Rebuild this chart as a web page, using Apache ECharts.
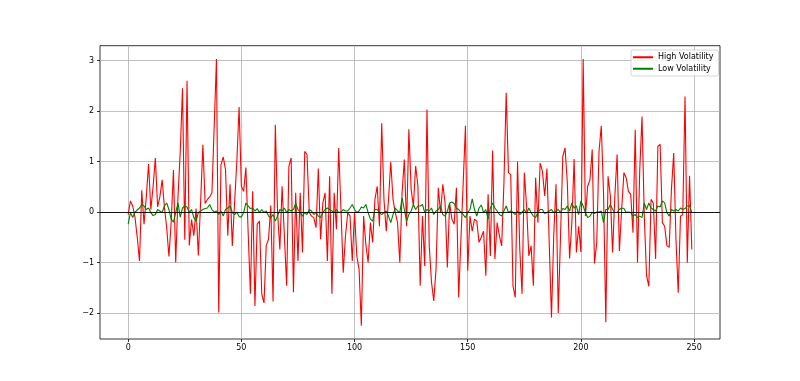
<!DOCTYPE html>
<html><head><meta charset="utf-8">
<script src="https://cdn.jsdelivr.net/npm/echarts@6/dist/echarts.min.js"></script>
<style>html,body{margin:0;padding:0;background:#fff}#c{width:800px;height:381px}</style>
</head><body><div id="c"></div>
<script>
const seriesNames = ['High Volatility', 'Low Volatility'];
const xTicks = [0, 50, 100, 150, 200, 250];
const yTicks = [-2, -1, 0, 1, 2, 3];
const highVol = [
-0.05,0.22,0.12,-0.1,-0.5,-0.97,0.43,-0.24,0.3,0.95,
0.05,0.5,1.07,0.1,0.3,0.64,0.1,-0.3,-0.88,-0.2,
0.83,-1.0,0.3,1.2,2.45,-0.55,2.6,-0.66,-0.15,-0.47,
0.07,-0.86,0.2,1.33,0.17,0.25,0.3,0.38,1.7,3.03,
-1.99,0.94,1.09,0.84,-0.47,0.55,-0.67,0.18,1.0,2.08,
0.51,0.41,0.88,-0.4,-1.62,0.41,-1.86,-0.24,-0.18,-1.62,
-1.8,-0.66,-0.54,0.13,-1.77,1.73,-0.01,-0.74,0.51,-0.47,
-1.46,0.91,1.07,-1.59,0.38,-0.97,0.38,-0.8,1.2,1.14,
-0.01,-0.08,-0.11,-0.31,0.86,-0.54,0.18,0.38,-0.97,0.71,
-1.62,0.38,-0.34,1.27,0.05,-1.2,-0.47,-0.01,-0.08,-0.97,
0.0,-0.87,-1.13,-2.25,-0.08,-0.64,-1.0,-0.21,-0.6,0.25,
0.51,-0.28,1.76,0.25,-0.38,0.25,0.99,0.25,-0.01,-0.21,
-1.0,0.38,1.04,-0.28,1.64,0.45,0.12,0.91,0.51,-1.46,
-0.08,-1.07,2.03,-0.67,-1.39,-1.76,-1.13,0.48,-0.01,0.55,
0.18,-1.1,0.18,-0.14,-0.24,0.48,-1.69,-0.54,0.58,1.71,
-1.16,-0.08,-0.38,-0.14,-0.18,-0.6,-0.5,-0.38,-1.26,0.35,
-0.87,1.22,-0.93,-0.21,-0.47,-0.67,0.58,2.36,0.78,0.74,
-1.46,-1.69,1.0,-0.74,-1.62,0.78,0.12,-0.87,-0.67,-1.46,
0.68,-0.21,0.97,0.81,0.32,0.86,-0.6,-2.09,-0.47,0.55,
-2.0,-0.47,1.1,1.27,0.58,-0.92,-0.21,1.05,-0.8,-0.28,
-0.79,3.03,-0.08,0.51,0.64,1.24,-1.02,-0.6,1.2,1.71,
0.38,-2.18,0.71,0.32,-0.8,0.32,1.14,-0.77,0.05,0.78,
0.68,0.41,0.35,-0.41,1.63,-1.0,0.84,1.89,-0.08,-1.26,
-1.47,0.25,0.18,-0.93,1.3,1.34,-0.21,-0.28,-0.67,-0.7,
0.45,1.17,-0.54,-1.6,-0.08,-0.05,2.29,-1.0,0.72,-0.74
];
const lowVol = [
-0.24,-0.01,-0.11,0,0.04,0.08,0.15,0.12,0.05,0.08,
-0.01,-0.07,-0.05,0.05,0.02,-0.01,0.12,0.18,0.05,-0.14,
-0.2,-0.01,0.18,-0.1,0.08,0.12,0.1,-0.01,0.05,-0.11,
-0.18,-0.01,0.02,0.05,0.07,0.08,0.15,0.05,0,0.02,
-0.05,0.02,-0.08,0.05,0.08,0.12,-0.01,-0.05,0,-0.09,
-0.1,-0.01,0.18,0.12,0.07,0.08,0.02,0.07,-0.01,0.05,
-0.01,0.02,-0.08,-0.11,-0.05,-0.18,-0.08,0.05,0.02,0.08,
-0.01,0.05,0.02,0.05,0.17,0.05,-0.01,-0.08,-0.01,-0.05,
0.05,0.02,-0.05,-0.01,-0.08,-0.11,-0.01,0.05,0.08,0.05,
0.02,-0.01,0.05,-0.01,0,0.05,0.02,0.02,0.08,0.15,
0.05,-0.01,0.02,0.1,0.08,0.15,-0.01,-0.14,-0.18,0.05,
0.05,-0.01,-0.05,-0.01,0.02,-0.08,-0.21,-0.05,0.08,0.02,
-0.01,0.28,0.05,-0.18,-0.05,0.02,0.15,0.05,0.12,0.12,
0.15,-0.01,0.05,0.02,0.08,-0.05,0.02,0.05,0.12,-0.05,
-0.08,0.02,0.18,0.2,0.17,0.08,0.05,0,-0.05,-0.11,
-0.01,0.05,0.26,0.05,-0.08,0.08,0.14,-0.01,0.05,-0.14,
0.08,0.18,0.08,0.02,-0.05,-0.08,0.02,0.12,-0.01,0.02,
-0.01,-0.05,0.02,-0.05,0,0.05,-0.03,0.08,-0.01,-0.08,
-0.11,-0.01,0.05,0.05,-0.03,-0.01,0.02,0.05,-0.01,0.02,
0.05,-0.01,0.07,0.05,0.12,0.02,0.18,0.08,0.12,-0.05,
0.22,0.12,-0.01,-0.11,-0.08,-0.01,-0.03,0,0,0.02,
-0.21,0.05,0.05,0.15,0.05,-0.01,-0.01,0.05,0.08,0.07,
-0.01,0,-0.01,-0.08,-0.05,-0.11,-0.08,-0.11,0.18,0.05,
0.18,0.08,0.05,0.02,0.12,0.1,0.22,0.18,-0.01,-0.08,
0.05,0.02,0.05,0.02,0.08,0.05,0.07,0.12,0.13,-0.01
];

const n = highVol.length;
const xMin = -0.05 * (n - 1), xMax = (n - 1) * 1.05;
const all = highVol.concat(lowVol);
const dMin = Math.min(...all), dMax = Math.max(...all);
const yMin = dMin - 0.05 * (dMax - dMin), yMax = dMax + 0.05 * (dMax - dMin);
const fmt = v => String(v).replace('-', '\u2212');
const font = 'DejaVu Sans';

const chart = echarts.init(document.getElementById('c'), null, {renderer: 'canvas'});
chart.setOption({
  animation: false,
  backgroundColor: '#ffffff',
  grid: {left: 100, right: 80, top: 45.7, bottom: 42, show: true, borderColor: '#000', borderWidth: 0.8, backgroundColor: 'transparent'},
  legend: {
    orient: 'vertical', left: 631, top: 50,
    padding: [2.5, 5, 2.5, 2], itemGap: 2,
    itemWidth: 20, itemHeight: 2, icon: 'rect',
    backgroundColor: 'rgba(255,255,255,0.8)', borderColor: '#cccccc', borderWidth: 0.8, borderRadius: 2,
    textStyle: {fontFamily: font, fontSize: 8, color: '#000', lineHeight: 9.5},
    data: seriesNames
  },
  xAxis: {
    type: 'value', min: xMin, max: xMax, position: 'bottom',
    axisLine: {show: false, onZero: false},
    axisTick: {show: true, inside: false, length: 3, lineStyle: {color: '#000', width: 0.8}, customValues: xTicks},
    axisLabel: {fontFamily: font, fontSize: 8, color: '#000', margin: 5, customValues: xTicks, formatter: fmt},
    splitLine: {show: true, lineStyle: {color: '#b0b0b0', width: 0.8}}
  },
  yAxis: {
    type: 'value', min: yMin, max: yMax, position: 'left',
    axisLine: {show: false, onZero: false},
    axisTick: {show: true, inside: false, length: 3, lineStyle: {color: '#000', width: 0.8}, customValues: yTicks},
    axisLabel: {fontFamily: font, fontSize: 8, color: '#000', margin: 6, customValues: yTicks, formatter: fmt},
    splitLine: {show: true, lineStyle: {color: '#b0b0b0', width: 0.8}}
  },
  series: [
    {name: seriesNames[0], type: 'line', data: highVol.map((v, i) => [i, v]), showSymbol: false,
     lineStyle: {color: '#ff0000', width: 1.1}, itemStyle: {color: '#ff0000'}},
    {name: seriesNames[1], type: 'line', data: lowVol.map((v, i) => [i, v]), showSymbol: false,
     lineStyle: {color: '#008000', width: 1.1}, itemStyle: {color: '#008000'},
     markLine: {silent: true, symbol: 'none', label: {show: false}, z: 10,
       lineStyle: {color: '#000', width: 0.9, type: 'solid'}, data: [{yAxis: 0}]}}
  ]
});
</script></body></html>
